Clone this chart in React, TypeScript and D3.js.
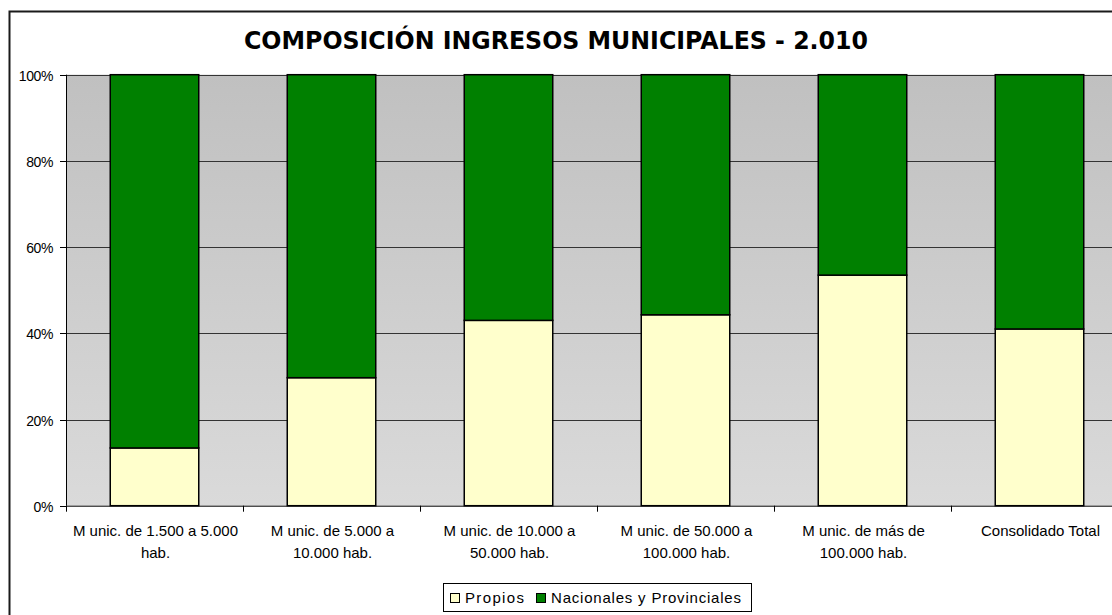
import React, { useEffect, useRef } from "react";
import * as d3 from "d3";

const categories: string[][] = [
  ["M unic. de 1.500 a 5.000", "hab."],
  ["M unic. de 5.000 a", "10.000 hab."],
  ["M unic. de 10.000 a", "50.000 hab."],
  ["M unic. de 50.000 a", "100.000 hab."],
  ["M unic. de más de", "100.000 hab."],
  ["Consolidado Total"],
];
const propios: number[] = [0.134, 0.297, 0.43, 0.443, 0.535, 0.41];
const nacionales: number[] = propios.map((p) => 1 - p);
const seriesNames = ["Propios", "Nacionales y Provinciales"];
const seriesColors = ["#FFFFCC", "#008000"];
const yTicks = [0, 0.2, 0.4, 0.6, 0.8, 1];
const title = "COMPOSICIÓN INGRESOS MUNICIPALES - 2.010";

export default function App() {
  const ref = useRef<SVGSVGElement>(null);
  useEffect(() => {
    const svg = d3.select(ref.current);
    svg.selectAll("*").remove();
    const W = 1112, H = 615;
    const left = 66, top = 74.7, bottom = 505.7;
    const step = 177;
    const keys = categories.map((_, i) => String(i));
    const x = d3.scaleBand<string>().domain(keys).range([left, left + step * keys.length]).paddingInner(0.5).paddingOuter(0.25);
    const y = d3.scaleLinear().domain([0, 1]).range([bottom, top]);

    const defs = svg.append("defs");
    const grad = defs.append("linearGradient").attr("id", "bg").attr("x1", 0).attr("y1", 0).attr("x2", 0).attr("y2", 1);
    grad.append("stop").attr("offset", "0%").attr("stop-color", "#C0C0C0");
    grad.append("stop").attr("offset", "100%").attr("stop-color", "#DADADA");

    svg.append("rect").attr("width", W).attr("height", H).attr("fill", "#fff");
    // chart border
    svg.append("rect").attr("x", 9.5).attr("y", 11.5).attr("width", W + 20).attr("height", H + 20)
      .attr("fill", "#fff").attr("stroke", "#1a1a1a").attr("stroke-width", 2);

    // title
    svg.append("text").attr("x", 556).attr("y", 48.5).attr("text-anchor", "middle")
      .attr("font-family", "'DejaVu Sans', sans-serif").attr("font-weight", "bold").attr("font-size", 24)
      .attr("textLength", 624).attr("lengthAdjust", "spacingAndGlyphs").attr("fill", "#000").text(title);

    // plot area
    svg.append("rect").attr("x", left).attr("y", top).attr("width", step * keys.length).attr("height", bottom - top).attr("fill", "url(#bg)");

    // gridlines
    svg.append("g").selectAll("line").data(yTicks.slice(1)).join("line")
      .attr("x1", left).attr("x2", left + step * keys.length)
      .attr("y1", (d) => Math.round(y(d)) + 0.5).attr("y2", (d) => Math.round(y(d)) + 0.5)
      .attr("stroke", "#333").attr("stroke-width", 1);

    // bars
    const stackData = keys.map((k, i) => ({ k, vals: [propios[i], nacionales[i]] }));
    const g = svg.append("g");
    stackData.forEach((d) => {
      let acc = 0;
      d.vals.forEach((v, si) => {
        g.append("rect").attr("x", x(d.k)!).attr("width", x.bandwidth())
          .attr("y", y(acc + v)).attr("height", y(acc) - y(acc + v))
          .attr("fill", seriesColors[si]).attr("stroke", "#000").attr("stroke-width", 1.5);
        acc += v;
      });
    });

    // y axis
    const ya = svg.append("g");
    ya.append("line").attr("x1", left + 0.5).attr("x2", left + 0.5).attr("y1", top).attr("y2", bottom).attr("stroke", "#000");
    yTicks.forEach((t) => {
      const yy = Math.round(y(t)) + 0.5;
      ya.append("line").attr("x1", left - 6).attr("x2", left).attr("y1", yy).attr("y2", yy).attr("stroke", "#000");
      ya.append("text").attr("x", 53).attr("y", yy + 5).attr("text-anchor", "end")
        .attr("font-family", "'Liberation Sans', Arial, sans-serif").attr("font-size", 14).attr("letter-spacing", -0.4)
        .attr("fill", "#000").text(d3.format(".0%")(t));
    });

    // x axis
    const xa = svg.append("g");
    xa.append("line").attr("x1", left).attr("x2", left + step * keys.length).attr("y1", bottom + 0.5).attr("y2", bottom + 0.5).attr("stroke", "#000");
    for (let i = 0; i <= keys.length; i++) {
      const xx = left + step * i + 0.5;
      xa.append("line").attr("x1", xx).attr("x2", xx).attr("y1", bottom).attr("y2", bottom + 6).attr("stroke", "#000");
    }
    categories.forEach((lines, i) => {
      const cx = x(keys[i])! + x.bandwidth() / 2 + 1;
      const t = xa.append("text").attr("text-anchor", "middle")
        .attr("font-family", "'Liberation Sans', Arial, sans-serif").attr("font-size", 15).attr("fill", "#000");
      lines.forEach((l, li) => {
        t.append("tspan").attr("x", cx).attr("y", 536 + li * 21.5).text(l);
      });
    });

    // legend
    const lg = svg.append("g");
    lg.append("rect").attr("x", 443.5).attr("y", 583.5).attr("width", 308).attr("height", 28).attr("fill", "#fff").attr("stroke", "#000");
    const items = [
      { name: seriesNames[0], color: seriesColors[0], sx: 450, tx: 465, len: 59 },
      { name: seriesNames[1], color: seriesColors[1], sx: 536, tx: 551, len: 190 },
    ];
    items.forEach((it) => {
      lg.append("rect").attr("x", it.sx + 0.5).attr("y", 593.5).attr("width", 9).attr("height", 9).attr("fill", it.color).attr("stroke", "#000");
      lg.append("text").attr("x", it.tx).attr("y", 602.5)
        .attr("font-family", "'Liberation Sans', Arial, sans-serif").attr("font-size", 15)
        .attr("textLength", it.len).attr("lengthAdjust", "spacing")
        .attr("fill", "#000").text(it.name);
    });
  }, []);
  return (
    <svg ref={ref} width={1112} height={615} style={{ position: "absolute", left: 0, top: 0 }} />
  );
}
